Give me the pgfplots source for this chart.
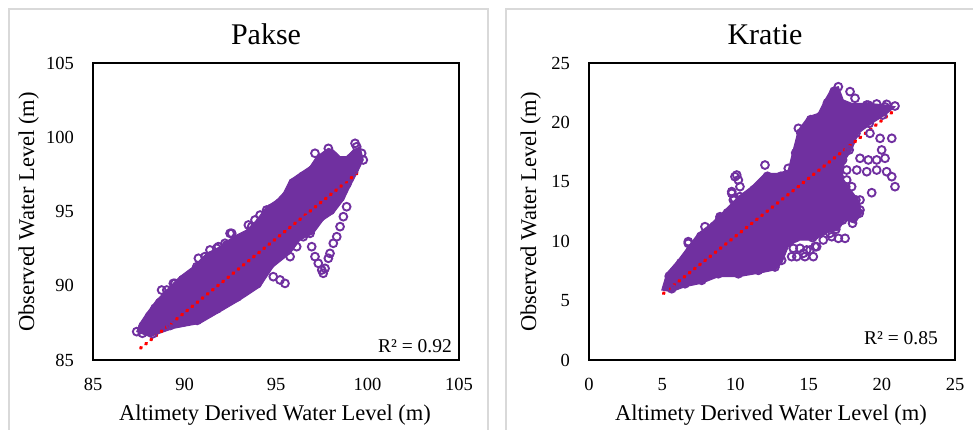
\documentclass[border=0pt]{standalone}
\usepackage{pgfplots}
\pgfplotsset{compat=1.18}
\usepackage{fontspec}
\setmainfont{Liberation Serif}

\definecolor{pur}{HTML}{7030A0}
\definecolor{frame}{HTML}{D9D9D9}

\pgfplotsset{
  panel/.style={
    width=366pt, height=297pt, scale only axis,
    anchor=south west,
    axis line style={black, line width=1.5pt},
    major tick length=0pt,
    /pgf/number format/assume math mode=true,
    ticklabel style={font=\fontsize{18.5}{18.5}\selectfont, inner sep=0pt},
    xticklabel style={anchor=north, yshift=-18pt},
    yticklabel style={anchor=east, xshift=-19pt},
  },
  cloud/.style={fill=pur, draw=pur, line width=1pt},
  pts/.style={only marks, mark=o, mark size=3.9pt,
    mark options={draw=pur, line width=1.9pt}},
  trend/.style={red, line width=3.4pt, line cap=round,
    dash pattern=on 1pt off 5.6pt},
}

\begin{document}
\begin{tikzpicture}[x=1pt, y=1pt]
\useasboundingbox (0,0) rectangle (973,430);
% chart frames
\draw[frame, line width=1.2pt] (9,-5) -- (9,421) -- (488,421) -- (488,-5);
\draw[frame, line width=1.2pt] (506,-5) -- (506,421) -- (980,421);

% ---------------- Pakse ----------------
\begin{axis}[panel, at={(93pt,70pt)},
  xmin=85, xmax=105, ymin=85, ymax=105,
  xtick={85,90,...,105}, ytick={85,90,...,105}]
% dense core of the point cloud
\addplot[cloud] coordinates {
 (87.39,86.91) (88.11,86.57) (89.39,87.13) (90.85,87.47) (91.94,88.25)
 (93.03,89.04) (94.13,89.94) (94.85,91.28) (95.77,92.18) (96.31,93.08)
 (97.04,93.53) (97.58,94.43) (98.13,94.88) (98.68,95.77) (99.04,96.67)
 (99.41,97.57) (99.77,98.47) (99.59,99.36) (99.22,99.14) (98.86,98.70)
 (98.50,98.69) (98.13,99.14) (97.86,99.25) (97.22,98.69) (96.86,98.02)
 (96.31,97.57) (95.77,97.12) (95.40,96.23) (95.04,95.77) (94.49,95.32)
 (93.95,94.43) (93.40,93.75) (92.67,93.30) (91.94,92.63) (91.21,92.18)
 (90.48,91.28) (89.75,90.61) (89.03,89.71) (88.48,89.04) (87.93,88.14)
 (87.57,87.47)} -- cycle;
% observations along the edge of the core
\addplot[pts] coordinates {
 (87.73,87.27) (88.09,87.94) (88.64,88.84) (89.19,89.51) (89.91,90.41)
 (90.64,91.08) (91.37,91.98) (92.10,92.43) (92.83,93.10) (93.56,93.55)
 (94.11,94.23) (94.65,95.12) (95.20,95.57) (95.56,96.03) (95.93,96.92)
 (96.47,97.37) (97.02,97.82) (97.38,98.49)
 (88.27,86.77) (89.23,87.33) (90.69,87.67) (91.78,88.45) (92.87,89.24)
 (93.97,90.14) (94.69,91.48) (95.61,92.38) (96.15,93.28) (96.88,93.73)
 (97.42,94.63) (97.97,95.08) (98.52,95.97) (98.88,96.87) (99.25,97.77)};
% observations outside the core
\addplot[pts] coordinates {
 (93.85,94.43) (94.13,94.76) (94.49,95.10) (94.76,95.22) (93.67,93.98)
 (92.58,93.53) (92.21,92.86) (91.76,92.52) (91.12,91.96) (90.67,91.28)
 (90.48,90.50) (89.48,90.16) (89.03,89.71) (88.39,88.48)
 (92.49,93.53) (93.49,94.09) (90.76,91.85) (90.94,91.17) (89.39,90.16)
 (88.75,89.71) (91.39,92.41) (91.85,92.63) (92.30,92.74)
 (96.68,94.43) (96.86,93.53) (96.95,92.63) (97.13,91.96) (97.31,91.51)
 (97.50,91.06) (97.58,90.84) (97.68,91.17)
 (98.86,95.32) (98.68,94.65) (98.50,93.98) (98.32,93.30) (98.13,92.86)
 (97.95,92.18) (97.86,91.85)
 (94.85,90.61) (95.22,90.39) (95.49,90.16)
 (95.77,91.96) (96.13,92.63) (96.49,93.30) (96.86,93.75)
 (97.86,99.25) (99.32,99.59) (99.41,99.36) (99.68,98.92) (99.77,98.47)
 (97.13,98.92) (87.39,86.91) (87.70,86.80)};
\addplot[trend] coordinates {(87.6,85.8) (99.55,97.7)};
\end{axis}

% ---------------- Kratie ----------------
\begin{axis}[panel, at={(589pt,70pt)},
  xmin=0, xmax=25, ymin=0, ymax=25,
  xtick={0,5,...,25}, ytick={0,5,...,25}]
\addplot[cloud] coordinates {
 (4.97,5.89) (5.31,7.30) (6.10,8.42) (6.78,9.54) (7.47,10.66)
 (8.38,11.51) (9.29,12.63) (10.20,13.75) (11.11,14.59) (12.02,15.71)
 (12.93,15.71) (13.61,15.99) (13.95,17.68) (14.30,19.36) (14.98,20.48)
 (15.66,20.76) (16.12,21.89) (16.58,22.87) (17.03,23.01) (17.37,21.89)
 (17.94,21.61) (19.08,21.61) (20.22,21.46) (20.90,21.32) (20.22,20.62)
 (19.31,19.92) (18.40,19.08) (17.94,17.68) (17.49,16.84) (17.26,15.43)
 (17.71,14.59) (18.40,13.47) (18.63,12.35) (18.17,11.51) (17.49,11.78)
 (17.03,10.94) (16.12,10.66) (15.44,10.10) (14.30,10.10) (13.61,9.54)
 (13.16,8.14) (12.70,7.58) (11.57,7.30) (10.20,7.01) (8.83,7.01)
 (7.70,6.46) (6.56,6.17) (5.65,5.75)} -- cycle;
% observations along the edge of the core
\addplot[pts] coordinates {
 (5.48,7.05) (6.27,8.17) (6.95,9.29) (7.64,10.41) (8.55,11.26)
 (9.46,12.38) (10.37,13.50) (11.28,14.34) (12.19,15.46) (13.10,15.46)
 (14.12,17.43) (14.47,19.11) (15.15,20.23) (15.83,20.51) (16.29,21.64)
 (16.75,22.62)
 (5.65,6.00) (6.56,6.42) (7.70,6.71) (8.83,7.26) (10.20,7.26)
 (11.57,7.55) (12.70,7.83) (13.16,8.39)
 (20.05,20.62) (19.14,19.92) (18.23,19.08) (17.77,17.68) (17.32,16.84)
 (17.09,15.43) (17.54,14.59) (18.23,13.47) (18.46,12.35) (18.00,11.51)
 (17.32,11.78) (16.86,11.00) (15.95,10.85) (15.27,10.30) (14.13,10.30)
 (19.08,21.45) (20.22,21.30)};
% observations outside the core
\addplot[pts] coordinates {
 (9.97,15.43) (10.20,15.15) (10.31,14.59) (9.75,14.03) (9.86,13.47)
 (8.95,11.93) (7.92,11.22) (6.78,9.82)
 (6.78,9.96) (8.95,12.06) (9.75,14.17) (10.09,15.57) (9.93,13.61)
 (10.31,13.75)
 (12.02,16.41) (13.61,16.13) (14.30,19.50) (14.64,17.96)
 (13.95,9.40) (14.41,9.40) (14.87,9.26) (15.32,8.70) (15.44,9.54)
 (16.00,10.10) (16.58,10.38) (17.03,10.24) (17.49,10.24) (13.84,8.70)
 (14.75,8.70)
 (18.97,21.46) (19.65,21.55) (20.33,21.52) (20.90,21.38)
 (19.19,19.08) (19.88,18.66) (20.68,18.66) (19.99,17.68)
 (18.51,16.98) (19.08,16.84) (19.65,16.84) (20.22,16.98)
 (17.60,15.99) (18.29,15.99) (18.97,15.85) (19.65,15.99) (20.33,15.85)
 (20.68,15.43) (20.90,14.59) (19.31,14.08)
 (17.60,15.15) (17.94,14.59) (18.51,13.47) (18.51,12.63)
 (16.46,10.66) (15.55,9.54) (15.10,9.26) (14.64,8.98) (14.19,8.70)
 (17.03,23.00) (17.83,22.59) (18.17,22.03)};
\addplot[trend] coordinates {(5.08,5.6) (20.9,21.05)};
\end{axis}

% titles
\node[anchor=base, font=\fontsize{30}{30}\selectfont] at (266,385) {Pakse};
\node[anchor=base, font=\fontsize{30}{30}\selectfont] at (765,385) {Kratie};
% axis titles
\node[anchor=base, font=\fontsize{22.5}{22.5}\selectfont] at (275,9) {Altimety Derived Water Level (m)};
\node[anchor=base, font=\fontsize{22.5}{22.5}\selectfont] at (771,9) {Altimety Derived Water Level (m)};
\node[anchor=base, rotate=90, font=\fontsize{22.5}{22.5}\selectfont] at (34,218) {Observed Water Level (m)};
\node[anchor=base, rotate=90, font=\fontsize{22.5}{22.5}\selectfont] at (536,218) {Observed Water Level (m)};
% goodness of fit
\node[anchor=base east, font=\fontsize{19.5}{19.5}\selectfont, inner sep=0pt] at (452,77) {R² = 0.92};
\node[anchor=base east, font=\fontsize{19.5}{19.5}\selectfont, inner sep=0pt] at (938,85) {R² = 0.85};
\end{tikzpicture}
\end{document}
